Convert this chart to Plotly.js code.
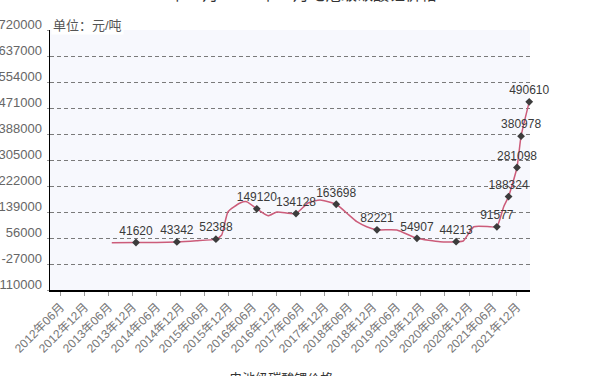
<!DOCTYPE html>
<html>
<head>
<meta charset="utf-8">
<script src="https://cdn.plot.ly/plotly-3.0.1.min.js"></script>
<style>
html,body{margin:0;padding:0;background:#fff;overflow:hidden;}
#chart{width:610px;height:395px;}
</style>
</head>
<body>
<div id="chart"></div>
<script>
// Price curve (元/吨)
var lineDates = ['2013-06-24','2013-12-25','2014-06-01','2014-11-01','2015-03-28','2015-08-25',
  '2015-10-08','2015-11-25','2016-02-25','2016-04-15','2016-07-01','2016-09-25','2016-12-01',
  '2017-04-25','2017-07-25','2017-10-25','2018-02-25','2018-05-15','2018-08-01','2018-10-15',
  '2019-01-01','2019-06-01','2019-11-01','2020-04-25','2020-08-25','2020-10-18','2021-01-07',
  '2021-05-10','2021-07-01','2021-08-22','2021-09-28','2021-12-01','2022-01-01','2022-03-04'];
var linePrices = [41000, 41620, 42000, 43342, 47000, 52388,
  65600, 139900, 167700, 171900, 149120, 127200, 139000,
  134128, 167700, 177300, 163698, 135800, 108000, 92000,
  82221, 81500, 54907, 44200, 44213, 46400, 92000,
  92000, 91577, 156000, 188324, 281098, 380978, 490610];

// Labelled points
var labelDates = ['2013-12-25','2014-11-01','2015-08-25','2016-07-01','2017-04-25','2018-02-25',
  '2019-01-01','2019-11-01','2020-08-25','2021-07-01','2021-09-28','2021-12-01','2022-01-01','2022-03-04'];
var labelPrices = [41620, 43342, 52388, 149120, 134128, 163698,
  82221, 54907, 44213, 91577, 188324, 281098, 380978, 490610];

// Axis ticks
var yTicks = [-110000, -27000, 56000, 139000, 222000, 305000, 388000, 471000, 554000, 637000, 720000];
var yTickText = yTicks.map(function(v){ return String(v); });

var seriesName = '电池级碳酸锂价格';
var titleText = '2012年06月-2021年12月电池级碳酸锂价格';
var unitText = '单位：元/吨';

var FONT = '"Liberation Sans", Arial, "Noto Sans CJK SC", sans-serif';

var traces = [
  {
    x: lineDates, y: linePrices, type: 'scatter', mode: 'lines',
    name: seriesName,
    line: {color: '#CC5C7A', width: 1.5, shape: 'spline', smoothing: 0.5},
    hoverinfo: 'x+y'
  },
  {
    x: labelDates, y: labelPrices, type: 'scatter', mode: 'markers+text',
    showlegend: false,
    text: labelPrices.map(function(v){ return String(v); }),
    textposition: 'top center',
    textfont: {family: FONT, size: 12, color: '#3a3a3a'},
    marker: {symbol: 'diamond', size: 6, color: '#3c3c3c'},
    cliponaxis: false,
    hoverinfo: 'x+y'
  }
];

var layout = {
  width: 610, height: 395,
  margin: {l: 50, r: 80, t: 30, b: 105},
  paper_bgcolor: '#ffffff',
  plot_bgcolor: '#F7F8FD',
  font: {family: FONT, size: 12, color: '#555'},
  showlegend: true,
  legend: {orientation: 'h', x: 0.29, xanchor: 'left', xref: 'paper',
    yref: 'container', y: 0.08, yanchor: 'top',
    font: {family: FONT, size: 13, color: '#333'}, bgcolor: 'rgba(0,0,0,0)'},
  xaxis: {
    type: 'date',
    range: ['2012-03-11', '2022-03-10'],
    tick0: '2012-06-01', dtick: 'M6',
    tickformat: '%Y年%m月',
    tickangle: -45,
    ticks: 'outside', ticklen: 4, tickcolor: '#999',
    showline: true, linecolor: '#000', linewidth: 1.5,
    showgrid: false, zeroline: false,
    tickfont: {family: FONT, size: 12, color: '#777'},
    automargin: false, fixedrange: true
  },
  yaxis: {
    range: [-110000, 720000],
    tickmode: 'array', tickvals: yTicks, ticktext: yTickText,
    ticks: 'outside', ticklen: 2, tickcolor: '#999',
    ticklabelshift: -6, ticklabelstandoff: 2,
    showline: true, linecolor: '#000', linewidth: 1.5,
    showgrid: true, gridcolor: '#7a7a7a', gridwidth: 1, griddash: '4px,3px',
    zeroline: false,
    tickfont: {family: FONT, size: 13, color: '#666'},
    automargin: false, fixedrange: true
  },
  annotations: [
    {text: unitText, xref: 'paper', yref: 'paper', x: 0, y: 1, xanchor: 'left', yanchor: 'bottom',
     xshift: 1, yshift: -5, showarrow: false, bgcolor: '#ffffff', borderpad: 1,
     font: {family: FONT, size: 13, color: '#555'}},
    {text: titleText, xref: 'paper', yref: 'paper', x: 0.49, y: 1, xanchor: 'center', yanchor: 'bottom',
     yshift: 25, showarrow: false,
     font: {family: FONT, size: 16, color: '#333'}}
  ]
};

Plotly.newPlot('chart', traces, layout, {displayModeBar: false, staticPlot: true});
</script>
</body>
</html>
